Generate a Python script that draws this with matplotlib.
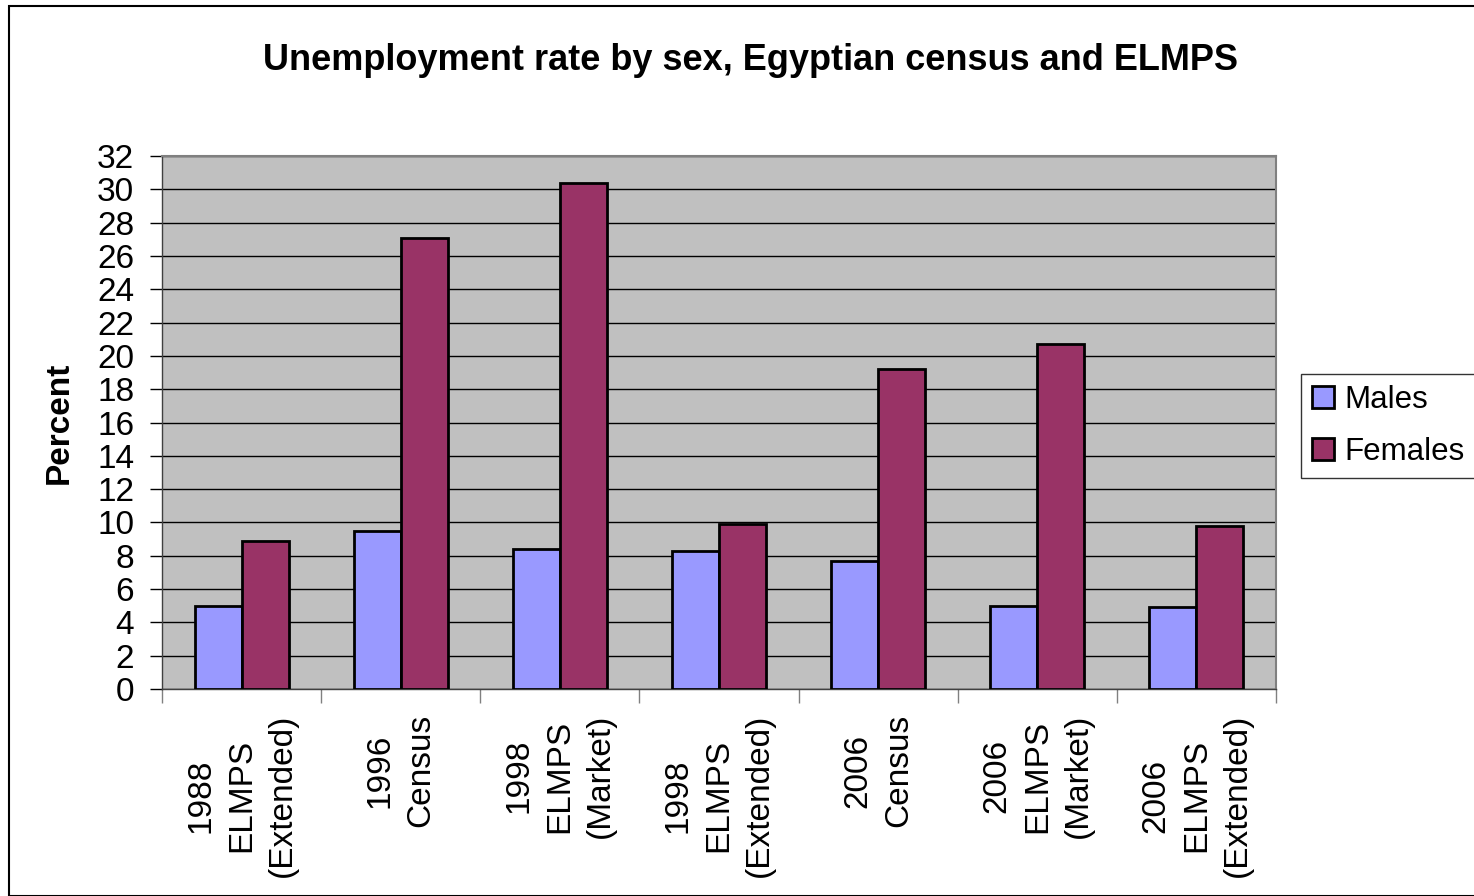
import matplotlib
matplotlib.use("Agg")
import matplotlib.pyplot as plt
import numpy as np
from matplotlib.patches import Rectangle

plt.rcParams['font.family'] = ['Liberation Sans', 'DejaVu Sans']

categories = ["1988\nELMPS\n(Extended)", "1996\nCensus", "1998\nELMPS\n(Market)",
              "1998\nELMPS\n(Extended)", "2006\nCensus", "2006\nELMPS\n(Market)",
              "2006\nELMPS\n(Extended)"]
males = [5.0, 9.5, 8.4, 8.3, 7.7, 5.0, 4.9]
females = [8.9, 27.1, 30.4, 9.9, 19.2, 20.7, 9.8]
yticks = list(range(0, 33, 2))

fig = plt.figure(figsize=(14.74, 8.96), dpi=100)
ax = fig.add_axes([162/1474, 1-689/896, (1276-162)/1474, (689-156)/896])
ax.set_facecolor('#C0C0C0')

x = np.arange(len(categories))
w = 0.295
ax.bar(x - w/2, males, width=w, color='#9999FF', edgecolor='black', linewidth=2, label='Males', zorder=3)
ax.bar(x + w/2, females, width=w, color='#993366', edgecolor='black', linewidth=2, label='Females', zorder=3)

ax.set_xlim(-0.5, len(categories) - 0.5)
ax.set_ylim(0, 32)
ax.set_yticks(yticks)
ax.set_yticklabels([str(t) for t in yticks], fontsize=24)
ax.yaxis.grid(True, color='black', linewidth=1)
ax.set_axisbelow(True)

ax.set_xticks(np.arange(-0.5, len(categories), 1.0))
ax.set_xticklabels([])
ax.set_xticks(x, minor=True)
ax.set_xticklabels(categories, minor=True, rotation=90, fontsize=24,
                   ha='center', va='top', multialignment='center', linespacing=1.4)
ax.tick_params(axis='x', which='minor', length=0, pad=18)
ax.tick_params(axis='x', which='major', length=10, width=1, color='#808080', direction='out')
ax.tick_params(axis='y', length=9, width=1, direction='out', pad=11)

for s in ['top', 'right']:
    ax.spines[s].set_color('#808080')
    ax.spines[s].set_linewidth(1.5)
for s in ['left', 'bottom']:
    ax.spines[s].set_color('#404040')
    ax.spines[s].set_linewidth(1)

ax.set_ylabel('Percent', fontsize=24, fontweight='bold', labelpad=16)

fig.text(0.509, 0.932, 'Unemployment rate by sex, Egyptian census and ELMPS',
         ha='center', va='center', fontsize=26, fontweight='bold')

leg = fig.legend(loc='upper left', bbox_to_anchor=(1301/1474, 1-374/896), fontsize=22.5,
                 frameon=True, fancybox=False, edgecolor='black', handlelength=0.7,
                 handleheight=0.7, handletextpad=0.35, borderpad=0.35, labelspacing=0.7,
                 borderaxespad=0)
leg.get_frame().set_linewidth(1)

fig.patches.append(Rectangle((9/1474, 0), 1.0, 1-6/896, transform=fig.transFigure,
                             fill=False, edgecolor='black', linewidth=1.5))

fig.savefig('out.png', dpi=100)
